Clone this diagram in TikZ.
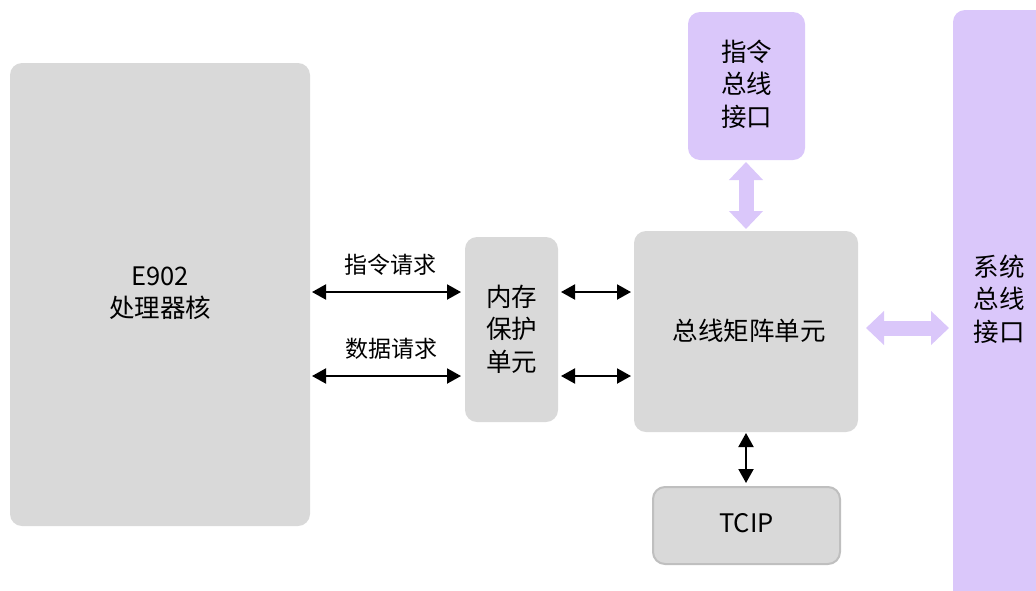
\documentclass[tikz,border=0pt]{standalone}
\usepackage{fontspec}
\setmainfont{Noto Sans CJK SC}
\usetikzlibrary{arrows.meta}
\definecolor{boxgray}{HTML}{D9D9D9}
\definecolor{boxpurple}{HTML}{DAC7FA}
\definecolor{edgegray}{HTML}{BFBFBF}
\begin{document}
\begin{tikzpicture}[x=1pt,y=-1pt,
  graybox/.style={fill=boxgray,rounded corners=12pt,draw=none},
  purplebox/.style={fill=boxpurple,rounded corners=12pt,draw=none},
  boxtext/.style={font=\fontsize{25.5}{32.5}\selectfont,align=center,text=black},
  lbl/.style={font=\fontsize{23}{28}\selectfont,text=black},
  blk/.style={line width=2pt,{Triangle[length=14pt,width=15pt]}-{Triangle[length=14pt,width=15pt]}},
  fat/.style={boxpurple,line width=15pt,{Triangle[length=18pt,width=33pt]}-{Triangle[length=18pt,width=33pt]}}]
\useasboundingbox (0,0) rectangle (1036,590);
\begin{scope}
\clip (0,0) rectangle (1036,590);
% boxes
\path[graybox] (10,63) rectangle (310,526);
\node[boxtext] (core) at (160,293) {E902\\处理器核};
\path[graybox] (465,237) rectangle (558,422);
\node[boxtext] (mpu) at (511.5,329) {内存\\保护\\单元};
\path[graybox] (634,231) rectangle (858,432);
\node[boxtext] (bus) at (749,331) {总线矩阵单元};
\path[fill=boxgray,draw=edgegray,line width=2pt,rounded corners=12pt] (653,487) rectangle (840,564);
\node[boxtext] (tcip) at (746.5,523) {TCIP};
\path[purplebox] (688,12) rectangle (805,160);
\node[boxtext] (ibus) at (746.5,84) {指令\\总线\\接口};
\path[purplebox] (953,10) rectangle (1050,610);
\node[boxtext] (sbus) at (999,299) {系统\\总线\\接口};
\end{scope}
% coordinates
\coordinate (a1) at (312,292); \coordinate (a2) at (461,292);
\coordinate (b1) at (312,376); \coordinate (b2) at (461,376);
\coordinate (c1) at (561,292); \coordinate (c2) at (631,292);
\coordinate (d1) at (561,376); \coordinate (d2) at (631,376);
\coordinate (e1) at (746,433); \coordinate (e2) at (746,483);
\coordinate (f1) at (746,162); \coordinate (f2) at (746,229);
\coordinate (g1) at (866,328); \coordinate (g2) at (949,328);
\draw[blk] (a1) -- (a2);
\draw[blk] (b1) -- (b2);
\draw[blk] (c1) -- (c2);
\draw[blk] (d1) -- (d2);
\draw[blk] (e1) -- (e2);
\draw[fat] (f1) -- (f2);
\draw[fat] (g1) -- (g2);
\node[lbl] (l1) at (390,265) {指令请求};
\node[lbl] (l2) at (391,349) {数据请求};
\end{tikzpicture}
\end{document}
